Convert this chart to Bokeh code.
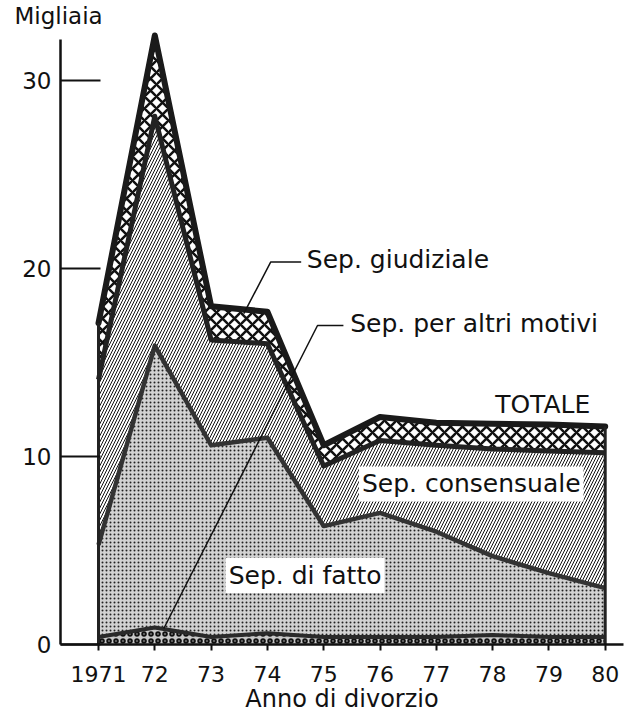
import numpy as np
from bokeh.plotting import figure
from bokeh.models import FixedTicker, Label
from bokeh.embed import file_html
from bokeh.resources import INLINE

# ---- data (thousands) ----
years = [1971, 1972, 1973, 1974, 1975, 1976, 1977, 1978, 1979, 1980]
year_labels = ["1971", "72", "73", "74", "75", "76", "77", "78", "79", "80"]
altri_motivi = [0.4, 0.9, 0.4, 0.6, 0.4, 0.4, 0.4, 0.5, 0.4, 0.4]
di_fatto = [4.9, 15.0, 10.2, 10.4, 5.9, 6.6, 5.6, 4.2, 3.4, 2.6]
consensuale = [8.8, 12.2, 5.6, 5.0, 3.2, 3.85, 4.6, 5.7, 6.5, 7.2]
giudiziale = [3.0, 4.3, 1.8, 1.7, 1.1, 1.25, 1.2, 1.35, 1.4, 1.4]
y_ticks = [0, 10, 20, 30]

# leader lines for two labels (data coords)
leader_giud_x = [1973.58, 1974.06, 1974.60]
leader_giud_y = [17.6, 20.35, 20.35]
leader_altri_x = [1972.16, 1974.89, 1975.35]
leader_altri_y = [0.85, 16.97, 16.97]

FONT = "DejaVu Sans"
INK = "#111111"

c0 = np.zeros(len(years))
c1 = np.array(altri_motivi)
c2 = c1 + np.array(di_fatto)
c3 = c2 + np.array(consensuale)
c4 = c3 + np.array(giudiziale)

p = figure(width=628, height=719, output_backend="svg", toolbar_location=None,
           x_range=(1970.325, 1980.325), y_range=(0, 32.77),
           min_border_left=60, min_border_right=5, min_border_top=28,
           min_border_bottom=75)
p.outline_line_color = None
p.xgrid.visible = False
p.ygrid.visible = False
p.background_fill_color = "white"

# title used as the unit label "Migliaia"
p.title.text = "Migliaia"
p.title.align = "left"
p.title.offset = -46
p.title.standoff = 0
p.title.text_font = FONT
p.title.text_font_size = "23px"
p.title.text_font_style = "normal"
p.title.text_color = INK

# ---- areas ----
p.varea(x=years, y1=c0, y2=c1, fill_color="#c8c8c8", hatch_pattern="o",
        hatch_scale=7, hatch_weight=2, hatch_color=INK)
p.varea(x=years, y1=c1, y2=c2, fill_color="#d2d2d2", hatch_pattern=".",
        hatch_scale=4, hatch_weight=2, hatch_color="#222222")
p.varea(x=years, y1=c2, y2=c3, fill_color="white", hatch_pattern="/",
        hatch_scale=6, hatch_weight=1, hatch_color=INK)
p.varea(x=years, y1=c3, y2=c4, fill_color="white", hatch_pattern="x",
        hatch_scale=12, hatch_weight=2.5, hatch_color=INK)

# ---- boundary lines ----
p.line(years, c1, line_width=4, line_color="#2a2a2a", line_join="round")
p.line(years, c2, line_width=4.5, line_color="#333333", line_join="round")
p.line(years, c3, line_width=5, line_color="#222222", line_join="round")
p.line(years, c4, line_width=6, line_color="#1a1a1a", line_join="round",
       line_cap="round")
p.segment(x0=[years[0], years[-1]], y0=[0, 0], x1=[years[0], years[-1]],
          y1=[c4[0], c4[-1]], line_width=3, line_color="#222222")

# leader lines
p.line(leader_giud_x, leader_giud_y, line_width=1.5, line_color=INK)
p.line(leader_altri_x, leader_altri_y, line_width=1.5, line_color=INK)

# ---- axes ----
xa = p.xaxis[0]
xa.ticker = FixedTicker(ticks=years)
xa.major_label_overrides = {y: l for y, l in zip(years, year_labels)}
xa.minor_tick_line_color = None
xa.major_tick_in = 0
xa.major_tick_out = 6
xa.major_tick_line_width = 2
xa.axis_line_width = 2.5
xa.axis_line_color = INK
xa.major_tick_line_color = INK
xa.major_label_text_font = FONT
xa.major_label_text_font_size = "22px"
xa.major_label_text_color = INK
xa.major_label_standoff = 15
xa.axis_label = "Anno di divorzio"
xa.axis_label_text_font = FONT
xa.axis_label_text_font_size = "24px"
xa.axis_label_text_font_style = "normal"
xa.axis_label_text_color = INK
xa.axis_label_standoff = 0

ya = p.yaxis[0]
ya.ticker = FixedTicker(ticks=y_ticks)
ya.bounds = (0, 32.2)
ya.minor_tick_line_color = None
ya.major_tick_in = 40
ya.major_tick_out = 0
ya.major_tick_line_width = 2
ya.axis_line_width = 2.5
ya.axis_line_color = INK
ya.major_tick_line_color = INK
ya.major_label_text_font = FONT
ya.major_label_text_font_size = "23px"
ya.major_label_text_color = INK
ya.major_label_standoff = 9

# ---- texts ----
def lab(text, x, y, size="25px", align="left", bg=None):
    kw = {}
    if bg:
        kw = dict(background_fill_color=bg, padding=3)
    p.add_layout(Label(x=x, y=y, text=text, text_font=FONT,
                       text_font_size=size, text_align=align,
                       text_baseline="middle", text_color=INK, **kw))

lab("Sep. giudiziale", 1974.70, 20.48)
lab("Sep. per altri motivi", 1975.47, 17.05)
lab("TOTALE", 1978.89, 12.79, align="center")
lab("Sep. consensuale", 1977.62, 8.54, align="center", bg="white")
lab("Sep. di fatto", 1974.67, 3.67, align="center", bg="white")

open("out.html", "w").write(file_html(p, INLINE))
